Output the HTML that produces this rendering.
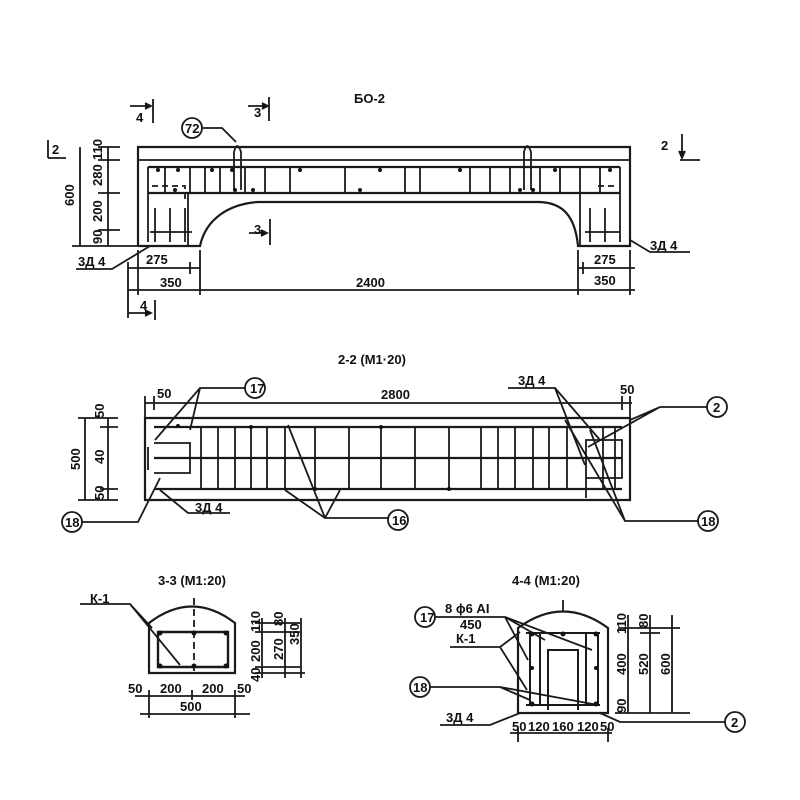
<!DOCTYPE html>
<html><head><meta charset="utf-8"><style>
html,body{margin:0;padding:0;background:#fff}
svg{display:block}
text{font-family:"Liberation Sans Narrow","Liberation Sans",sans-serif;fill:#111;font-size:13px;font-weight:bold}
</style></head><body>
<svg width="800" height="800" viewBox="0 0 800 800" xmlns="http://www.w3.org/2000/svg">
<g stroke="#1a1a1a" stroke-width="1.8" fill="none">
<path d="M130 106 H150 M153 99 V123"/><path d="M145 103 L151 106 L145 109" fill="#111"/>
<path d="M248 106 H266 M269 97 V121"/><path d="M262 103 L268 106 L262 109" fill="#111"/>
<path d="M48 140 V158 M48 158 H66"/>
<path d="M682 134 V158 M680 160 H700"/><path d="M679 151 L682 158 L685 151" fill="#111"/>
<path d="M138 246 V147 H630 V246 H578 C575 215 562 203 540 202 L258 202 C230 204 206 218 200 246 H138" stroke-width="2.2"/>
<path d="M138 160 H630" />
<path d="M148 167 H620 M148 193 H620" stroke-width="2.2"/>
<path d="M148 167 V242 M620 167 V242 M165 167 V193 M190 167 V193 M205 167 V193 M220 167 V193 M245 167 V193 M265 167 V193 M290 167 V193 M345 167 V193 M405 167 V193 M420 167 V193 M470 167 V193 M490 167 V193 M510 167 V193 M540 167 V193 M560 167 V193 M580 167 V246 M600 167 V193 M188 193 V246"/>
<path d="M152 186 H185 V200 M598 186 H618" stroke-dasharray="6 4"/>
<path d="M155 208 V242 M170 208 V242 M185 208 V242 M150 232 H192 M590 208 V242 M605 208 V242 M585 232 H620"/>
<path d="M234 190 V152 Q237 140 241 152 V190" /><path d="M524 190 V152 Q527 140 531 152 V190"/>
<circle cx="192" cy="128" r="10"/><path d="M202 128 H222 L236 142"/>
<path d="M249 233 H266 M270 219 V245"/><path d="M261 230 L267 233 L261 236" fill="#111"/>
<path d="M76 269 H112 L150 246"/><path d="M630 240 L650 252 H690"/>
<path d="M80 147 V246 M108 147 V246 M72 246 H138 M98 147 H120 M98 160 H120 M98 193 H120 M98 230 H120"/>
<path d="M128 268 H200 M578 268 H635 M128 290 H635 M128 262 V318 M138 250 V295 M200 250 V295 M578 250 V295 M630 250 V295 M190 262 V274 M583 262 V274"/>
<path d="M128 313 H150 M155 300 V320"/><path d="M145 310 L151 313 L145 316" fill="#111"/>

<path d="M145 418 H630 V500 H145 Z" stroke-width="2.2"/>
<path d="M145 403 H632 M145 396 V418 M154 396 V410 M622 396 V410 M630 396 V418"/>
<path d="M154 427 H622 M154 458 H622 M154 489 H622" stroke-width="2.2"/>
<path d="M201 427 V489 M218 427 V489 M235 427 V489 M251 427 V489 M267 427 V489 M285 427 V489 M315 427 V489 M349 427 V489 M381 427 V489 M415 427 V489 M449 427 V489 M481 427 V489 M498 427 V489 M515 427 V489 M533 427 V489 M549 427 V489 M567 427 V489 M603 427 V489 M615 427 V489"/>
<path d="M154 443 H190 V473 H154 M148 447 V470 M586 440 H622 V478 H586 Z M586 470 V498"/>
<circle cx="255" cy="388" r="10"/><path d="M245 388 H200 L155 440 M200 388 L190 430"/>
<circle cx="717" cy="407" r="10"/><path d="M707 407 H660 L630 420 M660 407 L588 447"/>
<circle cx="72" cy="522" r="10"/><path d="M82 522 H138 L160 478"/>
<path d="M160 490 L188 513 H230"/>
<circle cx="398" cy="520" r="10"/><path d="M388 518 H325 L288 425 M325 518 L285 490 M325 518 L340 490"/>
<circle cx="708" cy="521" r="10"/><path d="M698 521 H625 L565 420 M625 521 L590 430"/>
<path d="M508 388 H555 L585 465 M555 388 L600 440"/>
<path d="M85 418 V500 M108 418 V500 M78 418 H118 M78 500 H118 M100 427 H118 M100 489 H118"/>

<path d="M149 673 V623 Q192 590 235 623 V673 Z" stroke-width="2.2"/>
<path d="M158 632 H228 V667 H158 Z" stroke-width="2.4"/>
<path d="M194 598 V672" stroke-dasharray="7 4"/>
<path d="M80 604 H130 L152 628 M130 604 L180 665"/>
<path d="M255 623 H300 M255 632 H300 M255 667 H300 M255 673 H305 M262 618 V678 M285 618 V678 M301 618 V678"/>
<path d="M135 696 H245 M149 690 V718 M192 690 V700 M235 690 V718 M140 714 H250"/>

<path d="M518 713 V628 Q563 595 608 628 V713 Z" stroke-width="2.2"/>
<path d="M526 633 H600 M526 705 H600 M530 633 V705 M598 633 V705 M548 710 V650 H578 V710 M540 633 V705 M586 633 V705" stroke-width="2"/>
<path d="M563 600 V612"/>
<circle cx="425" cy="617" r="10"/><path d="M435 617 H505 L528 660 M505 617 L545 640 M505 617 L592 650"/>
<path d="M450 647 H500 L527 690 M500 647 L520 632"/>
<circle cx="420" cy="687" r="10"/><path d="M430 687 H500 L530 700 M500 687 L598 705"/>
<path d="M440 725 H490 L520 713"/>
<circle cx="735" cy="722" r="10"/><path d="M725 722 H620 L600 713"/>
<path d="M618 628 H680 M618 707 H620 M615 713 H690 M628 615 V713 M650 615 V713 M672 615 V713 M640 633 H660"/>
<path d="M510 733 H612 M518 728 V742 M608 728 V742"/>
</g>
<g fill="#111">
<circle cx="158" cy="170" r="2"/><circle cx="178" cy="170" r="2"/><circle cx="212" cy="170" r="2"/><circle cx="232" cy="170" r="2"/><circle cx="300" cy="170" r="2"/><circle cx="380" cy="170" r="2"/><circle cx="460" cy="170" r="2"/><circle cx="555" cy="170" r="2"/><circle cx="610" cy="170" r="2"/>
<circle cx="175" cy="190" r="2"/><circle cx="235" cy="190" r="2"/><circle cx="253" cy="190" r="2"/><circle cx="360" cy="190" r="2"/><circle cx="520" cy="190" r="2"/><circle cx="533" cy="190" r="2"/>
<circle cx="178" cy="426" r="2"/><circle cx="251" cy="427" r="2"/><circle cx="381" cy="427" r="2"/><circle cx="315" cy="489" r="2"/><circle cx="449" cy="489" r="2"/>
<circle cx="160" cy="633" r="2.5"/><circle cx="194" cy="633" r="2.5"/><circle cx="226" cy="633" r="2.5"/><circle cx="160" cy="666" r="2.5"/><circle cx="194" cy="666" r="2.5"/><circle cx="226" cy="666" r="2.5"/>
<circle cx="532" cy="634" r="2.5"/><circle cx="563" cy="634" r="2.5"/><circle cx="596" cy="634" r="2.5"/><circle cx="532" cy="704" r="2.5"/><circle cx="596" cy="704" r="2.5"/><circle cx="532" cy="668" r="2"/><circle cx="596" cy="668" r="2"/>
</g>
<g>
<text x="354" y="103" font-size="17">БО-2</text>
<text x="136" y="122" font-size="14">4</text>
<text x="254" y="117" font-size="14">3</text>
<text x="52" y="154" font-size="14">2</text>
<text x="661" y="150" font-size="14">2</text>
<text x="185" y="133" font-size="12">72</text>
<text x="254" y="234" font-size="14">3</text>
<text x="140" y="310" font-size="14">4</text>
<text x="78" y="266" font-size="12">3Д 4</text>
<text x="650" y="250" font-size="12">3Д 4</text>
<text x="146" y="264" font-size="12">275</text>
<text x="594" y="264" font-size="12">275</text>
<text x="160" y="287" font-size="12">350</text>
<text x="356" y="287" font-size="12">2400</text>
<text x="594" y="285" font-size="12">350</text>
<g font-size="11">
<text transform="translate(74,206) rotate(-90)">600</text>
<text transform="translate(102,160) rotate(-90)">110</text>
<text transform="translate(102,186) rotate(-90)">280</text>
<text transform="translate(102,222) rotate(-90)">200</text>
<text transform="translate(102,244) rotate(-90)">90</text>
</g>
<text x="338" y="364" font-size="16">2-2 (М1·20)</text>
<text x="381" y="399" font-size="12">2800</text>
<text x="157" y="398" font-size="12">50</text>
<text x="620" y="394" font-size="12">50</text>
<text x="250" y="393" font-size="12">17</text>
<text x="713" y="412" font-size="12">2</text>
<text x="65" y="527" font-size="12">18</text>
<text x="392" y="525" font-size="12">16</text>
<text x="701" y="526" font-size="12">18</text>
<text x="195" y="512" font-size="12">3Д 4</text>
<text x="518" y="385" font-size="12">3Д 4</text>
<g font-size="11">
<text transform="translate(80,470) rotate(-90)">500</text>
<text transform="translate(104,418) rotate(-90)">50</text>
<text transform="translate(104,464) rotate(-90)">40</text>
<text transform="translate(104,500) rotate(-90)">50</text>
</g>
<text x="158" y="585" font-size="15">3-3 (М1:20)</text>
<text x="90" y="603" font-size="12">К-1</text>
<text x="128" y="693" font-size="11">50</text>
<text x="160" y="693" font-size="11">200</text>
<text x="202" y="693" font-size="11">200</text>
<text x="237" y="693" font-size="11">50</text>
<text x="180" y="711" font-size="11">500</text>
<g font-size="10">
<text transform="translate(260,632) rotate(-90)">110</text>
<text transform="translate(260,662) rotate(-90)">200</text>
<text transform="translate(260,682) rotate(-90)">40</text>
<text transform="translate(283,626) rotate(-90)">80</text>
<text transform="translate(283,660) rotate(-90)">270</text>
<text transform="translate(299,645) rotate(-90)">350</text>
</g>
<text x="512" y="585" font-size="15">4-4 (М1:20)</text>
<text x="420" y="622" font-size="12">17</text>
<text x="445" y="613" font-size="12">8 ϕ6 АI</text>
<text x="460" y="629" font-size="12">450</text>
<text x="456" y="643" font-size="12">К-1</text>
<text x="413" y="692" font-size="12">18</text>
<text x="446" y="722" font-size="12">3Д 4</text>
<text x="731" y="727" font-size="12">2</text>
<text x="512" y="731" font-size="11">50</text>
<text x="528" y="731" font-size="11">120</text>
<text x="552" y="731" font-size="11">160</text>
<text x="577" y="731" font-size="11">120</text>
<text x="600" y="731" font-size="11">50</text>
<g font-size="10">
<text transform="translate(626,634) rotate(-90)">110</text>
<text transform="translate(626,675) rotate(-90)">400</text>
<text transform="translate(626,713) rotate(-90)">90</text>
<text transform="translate(648,628) rotate(-90)">80</text>
<text transform="translate(648,675) rotate(-90)">520</text>
<text transform="translate(670,675) rotate(-90)">600</text>
</g>
</g>
</svg>
</body></html>
